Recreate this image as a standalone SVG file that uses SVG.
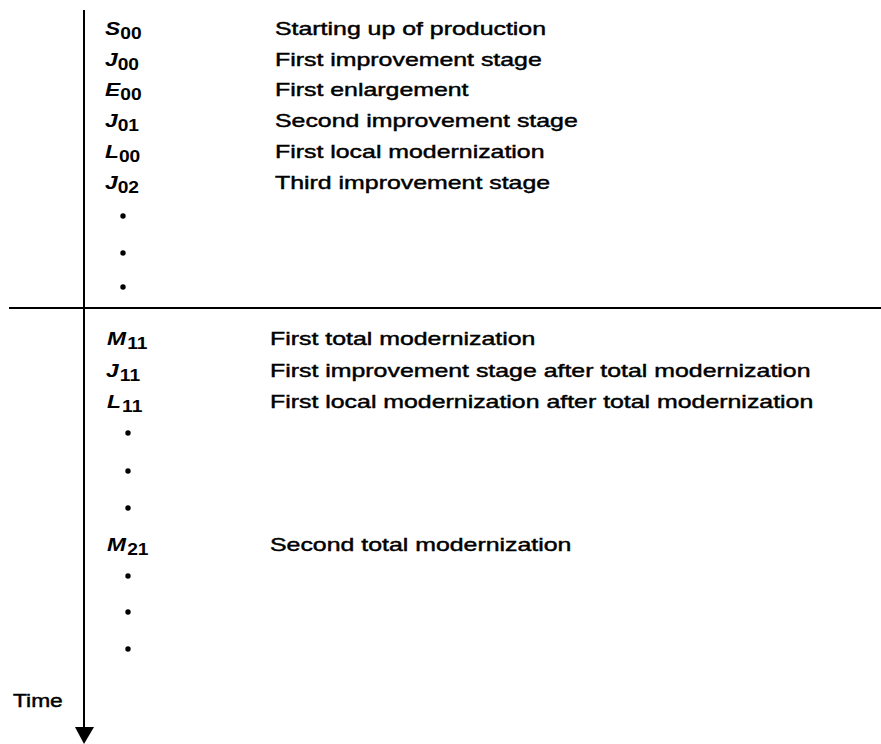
<svg xmlns="http://www.w3.org/2000/svg" width="881" height="744" viewBox="0 0 881 744">
  <style>
    .axis { stroke: #000; stroke-width: 2; fill: none; }
    .sym { font-family: "Liberation Sans", Arial, sans-serif; font-size: 19px; font-weight: bold; font-style: italic; fill: #000; }
    .sub { font-style: normal; font-size: 16px; }
    .desc { font-family: "Liberation Sans", Arial, sans-serif; font-size: 19px; fill: #000; stroke: #000; stroke-width: 0.45; }
    .dot { fill: #000; }
  </style>

  <!-- time axis with arrowhead, and the separator between the two periods -->
  <g id="connectors">
    <line class="axis" x1="84" y1="10" x2="84" y2="730"/>
    <polygon points="75,727 94,727 84,744" fill="#000"/>
    <line class="axis" x1="9" y1="308" x2="881" y2="308"/>
  </g>

  <!-- initial production period -->
  <g id="s00"><text class="sym" transform="translate(105 35) scale(1.2 1)">S<tspan class="sub" dy="4">00</tspan></text><text class="desc" transform="translate(275 35) scale(1.31 1)">Starting up of production</text></g>
  <g id="j00"><text class="sym" transform="translate(105 66) scale(1.2 1)">J<tspan class="sub" dy="4">00</tspan></text><text class="desc" transform="translate(275 66) scale(1.31 1)">First improvement stage</text></g>
  <g id="e00"><text class="sym" transform="translate(105 96) scale(1.2 1)">E<tspan class="sub" dy="4">00</tspan></text><text class="desc" transform="translate(275 96) scale(1.31 1)">First enlargement</text></g>
  <g id="j01"><text class="sym" transform="translate(105 127) scale(1.2 1)">J<tspan class="sub" dy="4">01</tspan></text><text class="desc" transform="translate(275 127) scale(1.31 1)">Second improvement stage</text></g>
  <g id="l00"><text class="sym" transform="translate(105 158) scale(1.2 1)">L<tspan class="sub" dy="4">00</tspan></text><text class="desc" transform="translate(275 158) scale(1.31 1)">First local modernization</text></g>
  <g id="j02"><text class="sym" transform="translate(105 189) scale(1.2 1)">J<tspan class="sub" dy="4">02</tspan></text><text class="desc" transform="translate(275 189) scale(1.31 1)">Third improvement stage</text></g>
  <g id="dots1">
    <circle class="dot" cx="123" cy="216" r="2.7"/>
    <circle class="dot" cx="123" cy="253" r="2.7"/>
    <circle class="dot" cx="123" cy="287" r="2.7"/>
  </g>

  <!-- after total modernization -->
  <g id="m11"><text class="sym" transform="translate(107 345) scale(1.2 1)">M<tspan class="sub" dx="1" dy="4">11</tspan></text><text class="desc" transform="translate(270 345) scale(1.31 1)">First total modernization</text></g>
  <g id="j11"><text class="sym" transform="translate(106 377) scale(1.2 1)">J<tspan class="sub" dx="1" dy="4">11</tspan></text><text class="desc" transform="translate(270 377) scale(1.31 1)">First improvement stage after total modernization</text></g>
  <g id="l11"><text class="sym" transform="translate(107 408) scale(1.2 1)">L<tspan class="sub" dx="1" dy="4">11</tspan></text><text class="desc" transform="translate(270 408) scale(1.31 1)">First local modernization after total modernization</text></g>
  <g id="dots2">
    <circle class="dot" cx="128" cy="433" r="2.7"/>
    <circle class="dot" cx="128" cy="471" r="2.7"/>
    <circle class="dot" cx="128" cy="508" r="2.7"/>
  </g>
  <g id="m21"><text class="sym" transform="translate(107 551) scale(1.2 1)">M<tspan class="sub" dx="1" dy="4">21</tspan></text><text class="desc" transform="translate(270 551) scale(1.31 1)">Second total modernization</text></g>
  <g id="dots3">
    <circle class="dot" cx="128" cy="576" r="2.7"/>
    <circle class="dot" cx="128" cy="612" r="2.7"/>
    <circle class="dot" cx="128" cy="649" r="2.7"/>
  </g>

  <g id="time"><text class="desc" transform="translate(13 707) scale(1.2 1)">Time</text></g>
</svg>
